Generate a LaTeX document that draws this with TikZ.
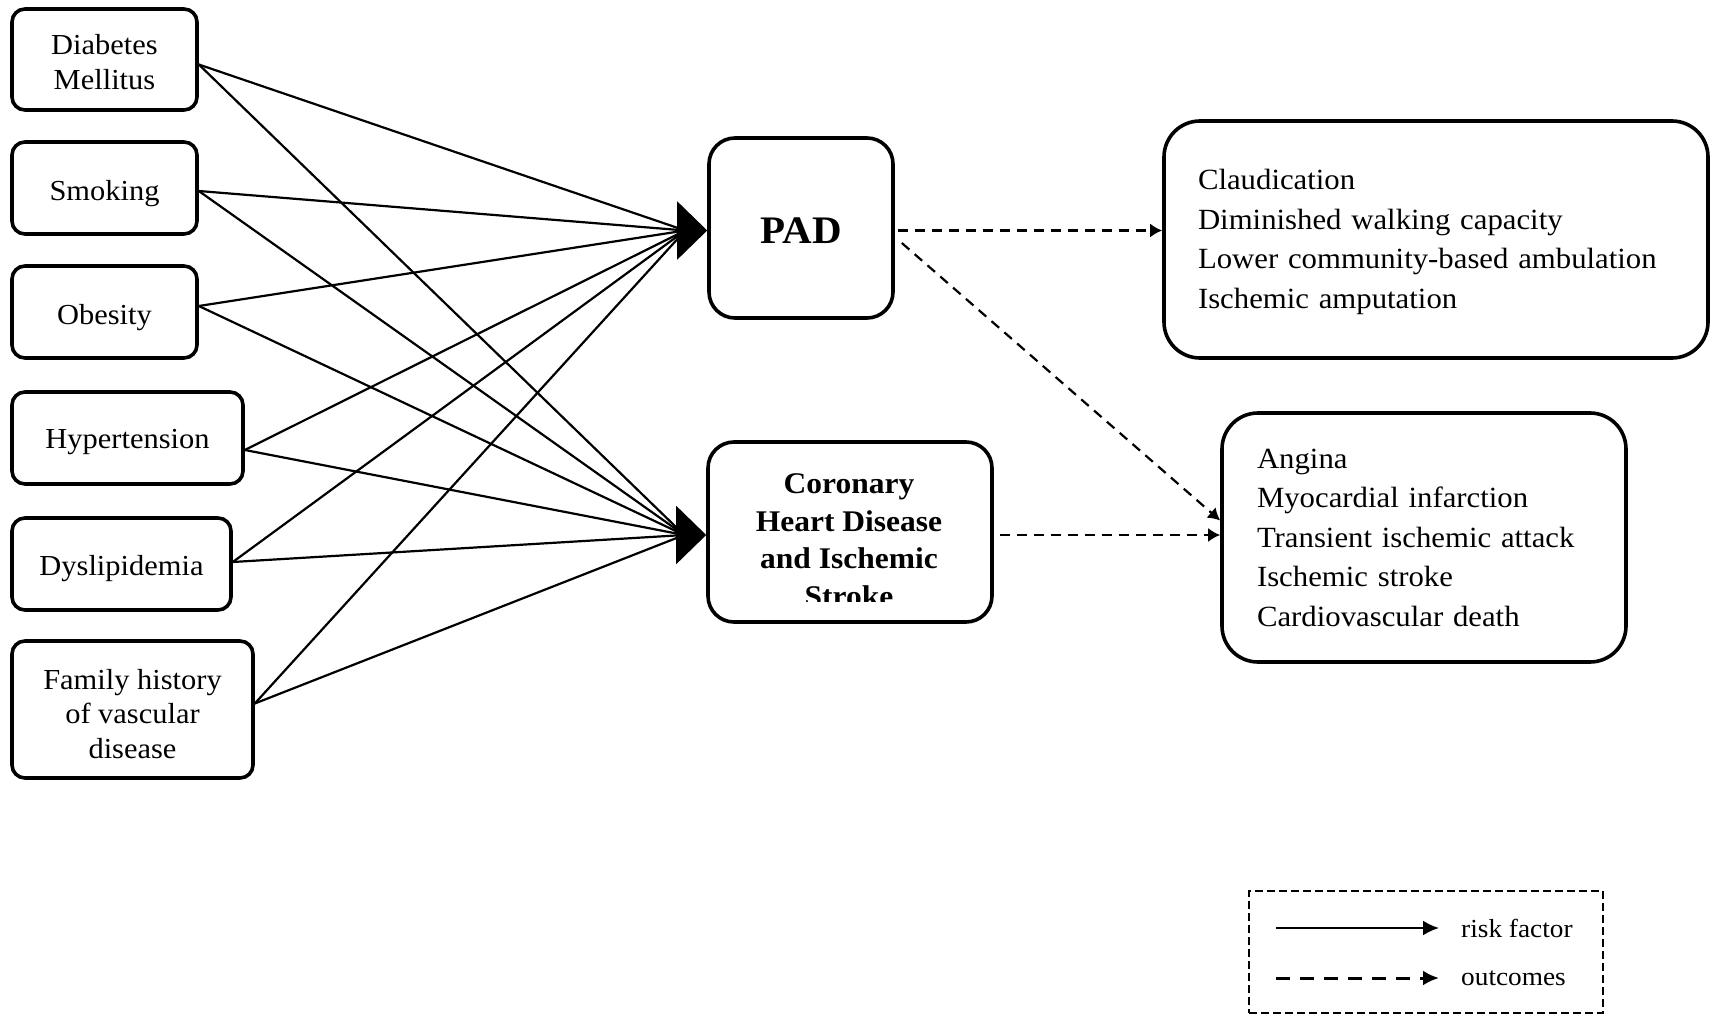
\documentclass[tikz,border=0pt]{standalone}
\usepackage{fontspec}
\setmainfont[FakeStretch=1.05]{Liberation Serif}
\usetikzlibrary{arrows.meta}
\tikzset{
  factor/.style={draw, line width=3.6pt, rounded corners=13pt, inner sep=0pt},
  ftext/.style={align=center, inner sep=0pt, font=\fontsize{29}{35}\selectfont},
  disease/.style={draw, line width=3.6pt, rounded corners=26pt, inner sep=0pt},
  outbox/.style={draw, line width=3.6pt, rounded corners=36pt, inner sep=0pt},
  otext/.style={align=left, inner sep=0pt, font=\fontsize{29.3}{39.5}\selectfont},
  risk/.style={line width=2.2pt},
  bighead/.style={-{Triangle[length=30pt,width=58pt]}, line width=2pt},
  outarrow/.style={line width=2.2pt, dash pattern=on 10pt off 7pt, -{Latex[length=12pt,width=14pt]}},
}
\begin{document}
\begin{tikzpicture}[x=1pt,y=-1pt]
\useasboundingbox (0,0) rectangle (1716,1016);
% risk factors
\node[factor, minimum width=185, minimum height=101] (dm) at (104.5,59.5) {};
\node[factor, minimum width=185, minimum height=92] (sm) at (104.5,188) {};
\node[factor, minimum width=185, minimum height=92] (ob) at (104.5,312) {};
\node[factor, minimum width=231, minimum height=92] (ht) at (127.5,438) {};
\node[factor, minimum width=219, minimum height=92] (dl) at (121.5,564) {};
\node[factor, minimum width=241, minimum height=137] (fh) at (132.5,709.5) {};
\node[ftext] (dmt) at ([shift={(0,2.5)}]dm.center) {Diabetes\\Mellitus};
\node[ftext] (smt) at ([shift={(0,5.5)}]sm.center) {Smoking};
\node[ftext] (obt) at ([shift={(0,5.5)}]ob.center) {Obesity};
\node[ftext] (htt) at ([shift={(0,4.5)}]ht.center) {Hypertension};
\node[ftext] (dlt) at ([shift={(0,4.5)}]dl.center) {Dyslipidemia};
\node[ftext, font=\fontsize{29}{34.5}\selectfont] (fht) at ([shift={(0,4.5)}]fh.center) {Family history\\of vascular\\disease};
% diseases
\node[disease, minimum width=184, minimum height=180] (pad) at (801,228) {};
\node[inner sep=0pt, font=\fontsize{39}{45}\selectfont\bfseries] (padt) at ([shift={(0,2.5)}]pad.center) {PAD};
\node[disease, minimum width=284, minimum height=180] (chd) at (850,532) {};
\begin{scope}
\clip (712,446) rectangle (988,601);
\node[align=center, inner sep=0pt, font=\fontsize{30}{37.5}\selectfont\bfseries] (chdtext) at (849,540) {Coronary\\Heart Disease\\and Ischemic\\Stroke};
\end{scope}
% outcomes
\node[outbox, minimum width=544, minimum height=237] (out1) at (1436,239.5) {};
\node[otext, text width=476] (out1t) at ([shift={(0,2.5)}]out1.center)
  {Claudication\\Diminished walking capacity\\Lower community-based ambulation\\Ischemic amputation};
\node[outbox, minimum width=404, minimum height=249] (out2) at (1424,537.5) {};
\node[otext, text width=334] (out2t) at (out2.center)
  {Angina\\Myocardial infarction\\Transient ischemic attack\\Ischemic stroke\\Cardiovascular death};
% risk connectors
\coordinate (padin) at ([shift={(-22,2.5)}]pad.west);
\coordinate (chdin) at ([shift={(-22,3)}]chd.west);
\foreach \s/\d in {dm/5, sm/3, ob/-6, ht/12, dl/-2, fh/-6}{
  \draw[risk] ([shift={(0,\d)}]\s.east) -- (padin);
  \draw[risk] ([shift={(0,\d)}]\s.east) -- (chdin);
}
\draw[bighead] ([shift={(-30,2.5)}]pad.west) -- ([shift={(0,2.5)}]pad.west);
\draw[bighead] ([shift={(-30,3)}]chd.west) -- ([shift={(0,3)}]chd.west);
% outcome connectors
\draw[outarrow] ([shift={(3,2.5)}]pad.east) -- ([shift={(0,2.5)}]pad.east -| out1.west);
\draw[outarrow] ([shift={(7,15)}]pad.east) -- ([shift={(0,-17)}]out2.west);
\draw[outarrow] ([shift={(6,3)}]chd.east) -- ([shift={(0,3)}]chd.east -| out2.west);
% legend
\node[draw, line width=2.5pt, dash pattern=on 8pt off 4pt, minimum width=354, minimum height=122, inner sep=0pt] (legend) at (1426,952) {};
\coordinate (ls1) at (1276,928);
\coordinate (le1) at (1439,928);
\coordinate (ls2) at (1276,978);
\coordinate (le2) at (1439,978);
\draw[line width=2.2pt, -{Latex[length=16pt,width=15pt]}] (ls1) -- (le1);
\draw[line width=3pt, dash pattern=on 14pt off 10pt, -{Latex[length=16pt,width=15pt]}] (ls2) -- (le2);
\node[anchor=west, inner sep=0pt, font=\fontsize{26}{30}\selectfont] (lt1) at (1461,928) {risk factor};
\node[anchor=west, inner sep=0pt, font=\fontsize{26}{30}\selectfont] (lt2) at (1461,978) {outcomes};
\end{tikzpicture}
\end{document}
